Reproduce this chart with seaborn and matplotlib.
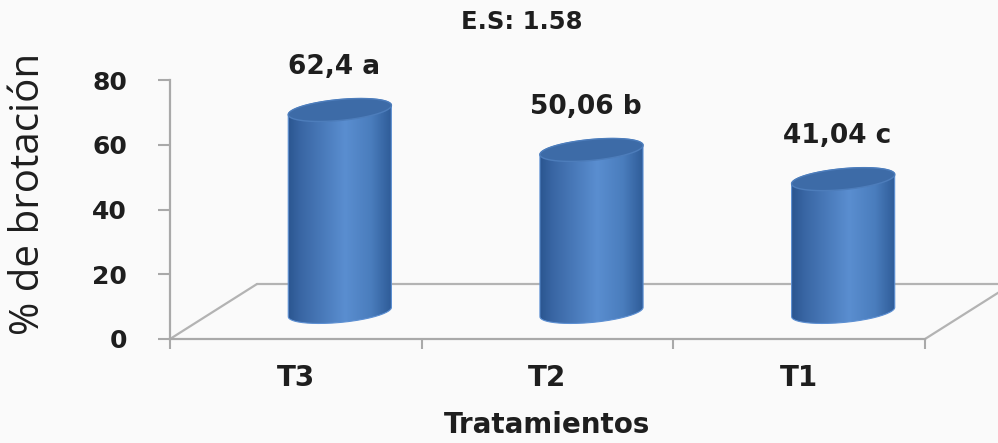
import numpy as np
import matplotlib
matplotlib.use("Agg")
import matplotlib.pyplot as plt
import seaborn as sns
from matplotlib.path import Path
from matplotlib.patches import PathPatch
from matplotlib.colors import LinearSegmentedColormap

# ---- data ----
tratamientos = ["T3", "T2", "T1"]
brotacion = [62.4, 50.06, 41.04]
etiquetas = ["62,4 a", "50,06 b", "41,04 c"]
y_ticks = [0, 20, 40, 60, 80]
titulo = "E.S: 1.58"

W, H = 998, 443
sns.set_theme(style="white")
plt.rcParams["font.family"] = ["DejaVu Sans"]

fig = plt.figure(figsize=(W / 100, H / 100), dpi=100)
fig.patch.set_facecolor("#fafafa")


def box(x0, y0, x1, y1):
    """pixel box (origin top-left) -> figure fraction rect"""
    return [x0 / W, 1 - y1 / H, (x1 - x0) / W, (y1 - y0) / H]


px_x = 755 / 3.0      # px per category
px_y = 259 / 80.0     # px per value unit
ymin_b = -10          # room under the cylinders for their rounded base

# front plane: value axis and floor
ax = fig.add_axes(box(170, 80, 925, 339))
# cylinders sit half-way into the floor depth
dx, dy = 44, 27
axb = fig.add_axes(box(170 + dx, 80 - dy, 925 + dx, 339 - dy - ymin_b * px_y))

ax.set_xlim(-0.5, 2.5)
ax.set_ylim(0, 80)
ax.patch.set_alpha(0)

grey = "#a9a9a9"
ink = "#1e1e1e"
ax.set_yticks(y_ticks)
ax.set_yticklabels([str(v) for v in y_ticks], fontsize=18, fontweight="bold",
                   color=ink)
ax.set_xticks(range(len(tratamientos)))
ax.set_xticklabels(tratamientos, fontsize=20, fontweight="bold", color=ink)
ax.set_xticks([-0.5, 0.5, 1.5, 2.5], minor=True)
ax.tick_params(axis="y", which="major", left=True, length=9, width=1.5,
               color=grey, pad=22)
ax.tick_params(axis="x", which="major", length=0, pad=18)
ax.tick_params(axis="x", which="minor", bottom=True, length=7, width=1.5,
               color=grey, direction="out")
for s in ("top", "right"):
    ax.spines[s].set_visible(False)
for s in ("left", "bottom"):
    ax.spines[s].set_color(grey)
    ax.spines[s].set_linewidth(1.6)

# floor in perspective
ddx, ddy = 87 / px_x, 55 / px_y
floor_kw = dict(color="#b3b3b3", lw=1.6, clip_on=False, zorder=1)
ax.plot([-0.5, -0.5 + ddx], [0, ddy], **floor_kw)
ax.plot([-0.5 + ddx, 2.5 + ddx], [ddy, ddy], **floor_kw)
ax.plot([2.5, 2.5 + ddx], [0, ddy], **floor_kw)

ax.set_ylabel("% de brotación", fontsize=29, color=ink,
              family=["Open Sans", "DejaVu Sans"])
ax.yaxis.set_label_coords(-0.16, 0.56)
ax.set_xlabel("Tratamientos", fontsize=20, fontweight="bold", color=ink,
              labelpad=14)

# bars through seaborn, then dressed as cylinders
sns.barplot(x=tratamientos, y=brotacion, ax=axb, width=0.41,
            color="#4f81bd", saturation=1)
axb.axis("off")
axb.patch.set_alpha(0)

side_cmap = LinearSegmentedColormap.from_list(
    "side", [(0.0, "#2b5690"), (0.12, "#3966a4"), (0.55, "#5a8ed0"),
             (0.8, "#4a7dbd"), (1.0, "#2e5b97")])
ry = 10.5 / px_y                     # half height of ellipse in value units
shear = 0.09 * px_x / px_y           # slight tilt of ellipses
t = np.linspace(0, 2 * np.pi, 200)

for bar, label in zip(list(axb.patches), etiquetas):
    x0, w, h = bar.get_x(), bar.get_width(), bar.get_height()
    xc, rx = x0 + w / 2, w / 2
    bar.set_visible(False)

    # outline of body: bottom half ellipse + top half ellipse (front)
    tb = np.linspace(np.pi, 2 * np.pi, 100)
    xb = xc + rx * np.cos(tb)
    yb = ry * np.sin(tb) + shear * (xb - xc)
    tt = np.linspace(0, np.pi, 100)
    xt = xc + rx * np.cos(tt)
    yt = h + ry * np.sin(tt) + shear * (xt - xc)
    verts = np.vstack([np.column_stack([xb, yb]), np.column_stack([xt, yt]),
                       [[xb[0], yb[0]]]])
    body = PathPatch(Path(verts), facecolor="none", edgecolor="#5c8fd2",
                     lw=0.8, transform=axb.transData, zorder=3)
    axb.add_patch(body)
    grad = np.linspace(0, 1, 256).reshape(1, -1)
    im = axb.imshow(grad, cmap=side_cmap, aspect="auto", zorder=2,
                    extent=[xc - rx, xc + rx, -2 * ry, h + 2 * ry])
    im.set_clip_path(body)

    # top cap
    xe = xc + rx * np.cos(t)
    ye = h + ry * np.sin(t) + shear * (xe - xc)
    cap = PathPatch(Path(np.column_stack([xe, ye])), facecolor="#3d6ba7",
                    edgecolor="#4d7dbb", lw=1.0, zorder=4,
                    transform=axb.transData)
    axb.add_patch(cap)

    axb.annotate(label, (xc, h), xytext=(-4, 31), textcoords="offset points",
                 ha="center", va="center", fontsize=19, fontweight="bold",
                 color=ink, annotation_clip=False)

axb.set_xlim(-0.5, 2.5)
axb.set_ylim(ymin_b, 80)

fig.text(522 / W, 1 - 22 / H, titulo, ha="center", va="center",
         fontsize=17.5, fontweight="bold", color=ink)

fig.savefig("out.png", dpi=100, facecolor=fig.get_facecolor())
